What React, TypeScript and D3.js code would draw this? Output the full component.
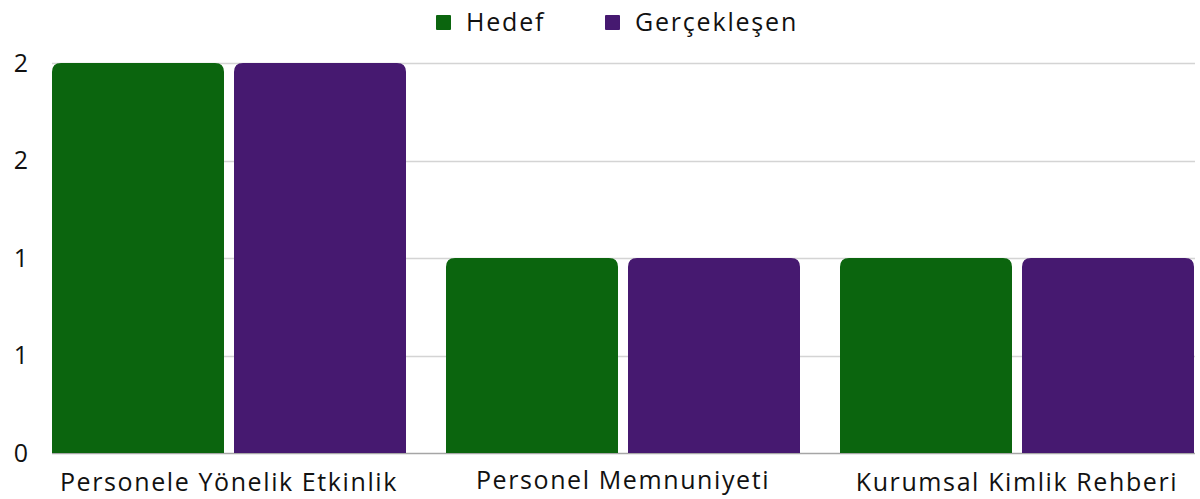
import React, { useRef, useEffect } from "react";
import * as d3 from "d3";

// chart data
const categories = ["Personele Yönelik Etkinlik", "Personel Memnuniyeti", "Kurumsal Kimlik Rehberi"];
const seriesNames = ["Hedef", "Gerçekleşen"];
const hedef = [2, 1, 1];
const gerceklesen = [2, 1, 1];
const yTickValues = [0, 0.5, 1, 1.5, 2];
const yTickLabels = ["0", "1", "1", "2", "2"];
const colors = ["#0b650e", "#461970"];
const labelBaselines = [491, 489, 491];

const App = () => {
  const container = useRef<SVGSVGElement>(null);

  const width = 1200;
  const height = 499;
  const margin = { top: 63, right: 6, bottom: 46, left: 52 };

  useEffect(() => {
    const svg = d3.select(container.current);
    svg.selectAll("*").remove();

    const font = "'Open Sans', Lato, sans-serif";

    const x0 = d3
      .scaleBand()
      .domain(categories)
      .range([margin.left, width - margin.right])
      .paddingInner(40 / 394)
      .paddingOuter(0);

    const x1 = d3
      .scaleBand()
      .domain(seriesNames)
      .range([0, x0.bandwidth()])
      .paddingInner(10 / 182);

    const y = d3
      .scaleLinear()
      .domain([0, 2])
      .range([height - margin.bottom, margin.top]);

    // gridlines
    svg
      .append("g")
      .selectAll("line")
      .data(yTickValues)
      .enter()
      .append("line")
      .attr("x1", margin.left)
      .attr("x2", width - margin.right + 1)
      .attr("y1", d => Math.round(y(d)) + 0.5)
      .attr("y2", d => Math.round(y(d)) + 0.5)
      .attr("stroke", d => (d === 0 ? "#a6a6a6" : "#d4d4d4"))
      .attr("stroke-width", 1.5);

    // y tick labels
    svg
      .append("g")
      .selectAll("text")
      .data(yTickValues)
      .enter()
      .append("text")
      .attr("x", 28)
      .attr("y", d => y(d))
      .attr("dy", "0.35em")
      .attr("text-anchor", "end")
      .style("font-family", font)
      .style("font-size", "25px")
      .style("fill", "#111")
      .text((d, i) => yTickLabels[i]);

    const rows = categories.map((c, i) => ({ cat: c, values: [hedef[i], gerceklesen[i]] }));

    // rounded top bars
    const r = 9;
    const barPath = (bx: number, bw: number, top: number, bottom: number) => {
      const p = d3.path();
      p.moveTo(bx, bottom);
      p.lineTo(bx, top + r);
      p.quadraticCurveTo(bx, top, bx + r, top);
      p.lineTo(bx + bw - r, top);
      p.quadraticCurveTo(bx + bw, top, bx + bw, top + r);
      p.lineTo(bx + bw, bottom);
      p.closePath();
      return p.toString();
    };

    const groups = svg
      .append("g")
      .selectAll("g")
      .data(rows)
      .enter()
      .append("g")
      .attr("transform", d => `translate(${x0(d.cat)},0)`);

    groups
      .selectAll("path")
      .data(d => d.values.map((v, i) => ({ key: seriesNames[i], value: v, i })))
      .enter()
      .append("path")
      .attr("d", d => barPath(x1(d.key) as number, x1.bandwidth(), y(d.value), y(0)))
      .attr("fill", d => colors[d.i]);

    // x labels
    svg
      .append("g")
      .selectAll("text")
      .data(categories)
      .enter()
      .append("text")
      .attr("x", d => (x0(d) as number) + x0.bandwidth() / 2)
      .attr("y", (d, i) => labelBaselines[i])
      .attr("text-anchor", "middle")
      .style("font-family", font)
      .style("font-size", "25px")
      .style("letter-spacing", "1.6px")
      .style("fill", "#111")
      .text(d => d);

    // legend
    const legendX = [436, 605];
    const legend = svg.append("g");
    legend
      .selectAll("rect")
      .data(seriesNames)
      .enter()
      .append("rect")
      .attr("x", (d, i) => legendX[i])
      .attr("y", 15)
      .attr("width", 15)
      .attr("height", 15)
      .attr("rx", 1)
      .attr("fill", (d, i) => colors[i]);

    legend
      .selectAll("text")
      .data(seriesNames)
      .enter()
      .append("text")
      .attr("x", (d, i) => legendX[i] + 30)
      .attr("y", 31)
      .style("font-family", font)
      .style("font-size", "25px")
      .style("letter-spacing", "1.8px")
      .style("fill", "#111")
      .text(d => d);
  }, []);

  return (
    <svg
      ref={container}
      width={width}
      height={height}
      style={{ position: "absolute", left: 0, top: 0, background: "white" }}
    />
  );
};

export default App;
